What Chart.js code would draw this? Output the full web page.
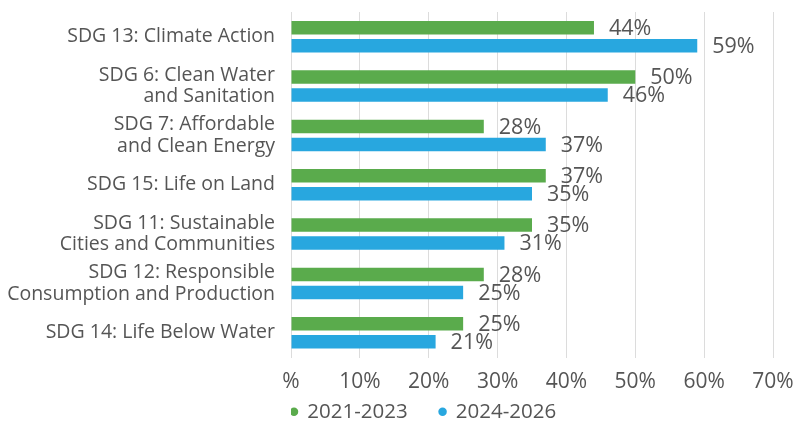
<!DOCTYPE html>
<html>
<head>
<meta charset="utf-8">
<script src="https://cdn.jsdelivr.net/npm/chart.js@4"></script>
<style>
html,body{margin:0;padding:0;background:#fff;}
#wrap{width:797px;height:428px;}
</style>
</head>
<body>
<div id="wrap"><canvas id="c" width="797" height="428"></canvas></div>
<script>
const categories = [
  ["SDG 13: Climate Action"],
  ["SDG 6: Clean Water", "and Sanitation"],
  ["SDG 7: Affordable", "and Clean Energy"],
  ["SDG 15: Life on Land"],
  ["SDG 11: Sustainable", "Cities and Communities"],
  ["SDG 12: Responsible", "Consumption and Production"],
  ["SDG 14: Life Below Water"]
];
const seriesNames = ["2021-2023", "2024-2026"];
const series2021 = [44, 50, 28, 37, 35, 28, 25];
const series2024 = [59, 46, 37, 35, 31, 25, 21];
const xTicks = [0, 10, 20, 30, 40, 50, 60, 70];

const FONT = "'Open Sans', sans-serif";
const TEXT = '#555555';

const valueLabels = {
  id: 'valueLabels',
  afterDatasetsDraw(chart) {
    const ctx = chart.ctx;
    ctx.save();
    ctx.font = '21.5px ' + FONT;
    ctx.fillStyle = TEXT;
    ctx.textAlign = 'left';
    ctx.textBaseline = 'middle';
    chart.data.datasets.forEach((ds, di) => {
      const meta = chart.getDatasetMeta(di);
      meta.data.forEach((el, i) => {
        ctx.fillText(ds.data[i] + '%', el.x + 15, el.y + 1);
      });
    });
    ctx.restore();
  }
};

new Chart(document.getElementById('c'), {
  type: 'bar',
  data: {
    labels: categories,
    datasets: [
      { label: seriesNames[0], data: series2021, backgroundColor: '#5aab4c', borderWidth: 0 },
      { label: seriesNames[1], data: series2024, backgroundColor: '#28a7df', borderWidth: 0 }
    ]
  },
  options: {
    indexAxis: 'y',
    responsive: false,
    animation: false,
    devicePixelRatio: 1,
    layout: { padding: { top: 12, left: 0, right: 0, bottom: -4 } },
    datasets: { bar: { categoryPercentage: 0.73, barPercentage: 0.75 } },
    scales: {
      x: {
        min: 0, max: 70,
        afterBuildTicks(axis) { axis.ticks = xTicks.map(v => ({ value: v })); },
        afterFit(scale) { scale.height = 44; scale.paddingRight = 24; scale.paddingLeft = 0; },
        grid: { color: '#dcdcdc', drawTicks: false, lineWidth: 1 },
        border: { display: false },
        ticks: {
          color: TEXT, font: { family: FONT, size: 21 }, padding: 12,
          callback: v => v === 0 ? '%' : v + '%'
        }
      },
      y: {
        grid: { display: false },
        border: { display: false },
        afterFit(scale) { scale.width = 291; scale.paddingTop = 0; scale.paddingBottom = 0; },
        ticks: { color: TEXT, font: { family: FONT, size: 19.5, lineHeight: 1.1 }, padding: 8, autoSkip: false }
      }
    },
    plugins: {
      legend: {
        position: 'bottom',
        align: 'start',
        fullSize: false,
        labels: {
          usePointStyle: true, pointStyle: 'circle', boxWidth: 6, boxHeight: 6,
          color: TEXT, font: { family: FONT, size: 20.5 }, padding: 0,
          generateLabels(chart) {
            const items = Chart.defaults.plugins.legend.labels.generateLabels(chart);
            items.forEach((it, i) => { if (i < items.length - 1) it.text = it.text + '      '; });
            return items;
          }
        }
      },
      tooltip: { enabled: false }
    }
  },
  plugins: [valueLabels]
});
</script>
</body>
</html>
